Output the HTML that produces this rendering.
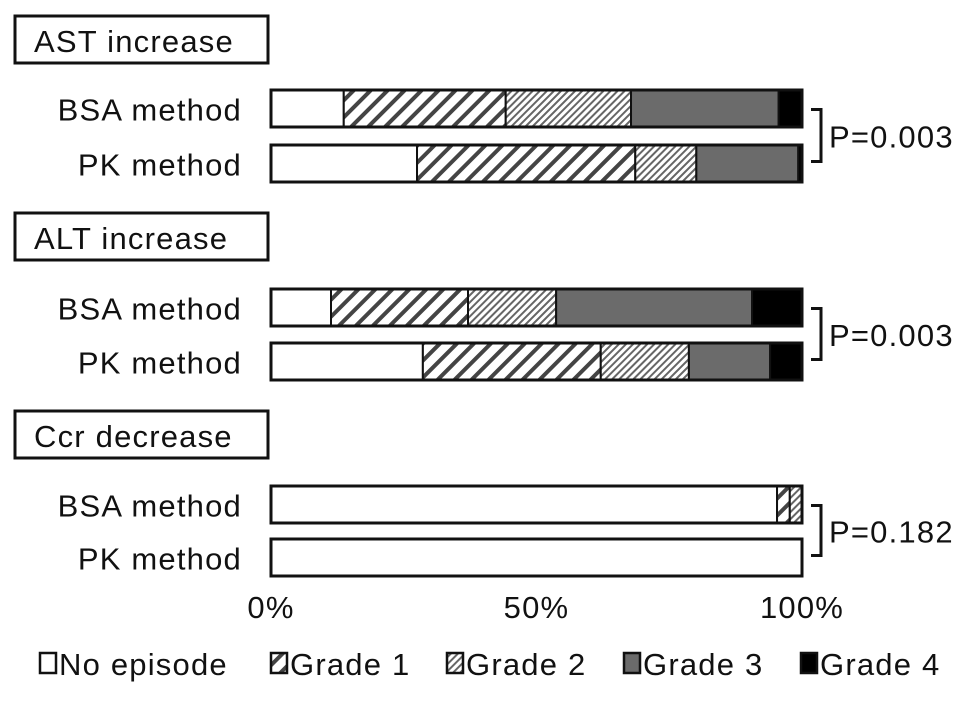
<!DOCTYPE html>
<html><head><meta charset="utf-8"><style>
html,body{margin:0;padding:0;background:#fff;}
svg text{font-family:"Liberation Sans",Arial,sans-serif;fill:#111;letter-spacing:1.2px;}
</style></head><body>
<svg id="chart" width="969" height="696" viewBox="0 0 969 696" xmlns="http://www.w3.org/2000/svg">
<defs>
<pattern id="g1" patternUnits="userSpaceOnUse" width="12" height="12" patternTransform="rotate(45)">
<rect width="12" height="12" fill="#fff"/><rect width="4" height="12" fill="#444"/></pattern>
<pattern id="g2" patternUnits="userSpaceOnUse" width="5" height="5" patternTransform="rotate(45)">
<rect width="5" height="5" fill="#fff"/><rect width="2" height="5" fill="#666"/></pattern>
</defs>
<g id="root"></g>
</svg>
<script>
const groups = ["AST increase","ALT increase","Ccr decrease"];
const rows = ["BSA method","PK method"];
const grades = ["No episode","Grade 1","Grade 2","Grade 3","Grade 4"];
const astValues = [[13.7,30.5,23.6,27.8,4.4],[27.5,41.1,11.5,19.2,0.7]];
const altValues = [[11.3,25.8,16.6,36.9,9.4],[28.6,33.5,16.6,15.3,6.0]];
const ccrValues = [[95.3,2.4,2.3,0,0],[100,0,0,0,0]];
const pValues = ["P=0.003","P=0.003","P=0.182"];
const ticks = [0,50,100];

const allValues=[astValues,altValues,ccrValues];
const fills=["#fff","url(#g1)","url(#g2)","#6b6b6b","#000"];
const NS="http://www.w3.org/2000/svg";
const root=document.getElementById('root');
const x0=271,x1=802;
const xs=v=>x0+(x1-x0)*v/100;
function mk(tag,attrs,parent){const e=document.createElementNS(NS,tag);for(const k in attrs)e.setAttribute(k,attrs[k]);(parent||root).appendChild(e);return e;}
const groupTop=[16,213,411];
const rowY=[[90,145],[289,343],[486,539]];
const barH=37;
const FS=31;
groups.forEach((g,gi)=>{
  const box=mk('rect',{x:15,y:groupTop[gi],width:253,height:47,fill:'#fff',stroke:'#111','stroke-width':3});
  
  
  const t=mk('text',{x:34,y:groupTop[gi]+36,'font-size':FS});
  t.textContent=g;
  
  
  rows.forEach((r,ri)=>{
    const y=rowY[gi][ri];
    const lab=mk('text',{x:242,y:y+barH/2+12,'font-size':FS,'text-anchor':'end'});
    lab.textContent=r;
    
    
    let cum=0;
    allValues[gi][ri].forEach((v,k)=>{
      if(v<=0)return;
      const b=mk('rect',{x:xs(cum),y:y,width:xs(cum+v)-xs(cum),height:barH,fill:fills[k],stroke:'#111','stroke-width':2});
      
      
      cum+=v;
    });
    const o=mk('rect',{x:x0,y:y,width:x1-x0,height:barH,fill:'none',stroke:'#111','stroke-width':3});
    
    
  });
  const yt=rowY[gi][0]+barH/2+1,yb=rowY[gi][1]+barH/2-2;
  const br=mk('path',{d:`M811 ${yt} H821 V${yb} H811`,fill:'none',stroke:'#111','stroke-width':3});
  
  
  const p=mk('text',{x:829,y:(yt+yb)/2+12,'font-size':FS});
  p.textContent=pValues[gi];
  
  
});
ticks.forEach(t=>{
  const e=mk('text',{x:xs(t),y:618,'font-size':FS,'text-anchor':'middle'});
  e.textContent=t+'%';
  
  
});
const legX=[40,271,447,624,801];
grades.forEach((g,k)=>{
  const sw=mk('rect',{x:legX[k],y:653,width:16,height:20,fill:fills[k],stroke:'#111','stroke-width':2.5});
  
  
  const t=mk('text',{x:legX[k]+19,y:675,'font-size':FS});
  t.textContent=g;
  
  
});
</script>
</body></html>
